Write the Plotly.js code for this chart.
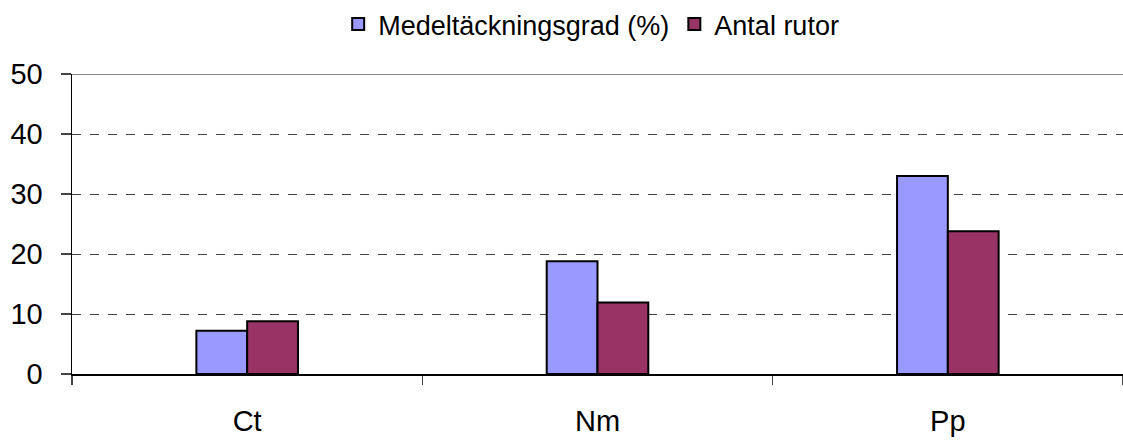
<!DOCTYPE html>
<html>
<head>
<meta charset="utf-8">
<script src="https://cdn.plot.ly/plotly-3.0.1.min.js"></script>
<style>
  html, body { margin: 0; padding: 0; background: #fff; }
  #chart { width: 1123px; height: 441px; }
</style>
</head>
<body>
<div id="chart"></div>
<script>
// Species codes along the x axis
const categories = ['Ct', 'Nm', 'Pp'];
// Mean cover (%) per species
const medeltackningsgrad = [7.2, 18.8, 33];
// Number of plots where the species occurs
const antalRutor = [8.8, 11.9, 23.8];
const yTicks = [0, 10, 20, 30, 40, 50];

const font = 'Liberation Sans, Arial, sans-serif';

const traces = [
  {
    type: 'bar',
    name: 'Medeltäckningsgrad (%)',
    x: categories,
    y: medeltackningsgrad,
    marker: { color: '#9999FF', line: { color: '#000', width: 2 } },
    hoverinfo: 'x+y'
  },
  {
    type: 'bar',
    name: 'Antal rutor',
    x: categories,
    y: antalRutor,
    marker: { color: '#993366', line: { color: '#000', width: 2 } },
    hoverinfo: 'x+y'
  }
];

const layout = {
  width: 1123,
  height: 441,
  paper_bgcolor: '#fff',
  plot_bgcolor: '#fff',
  margin: { l: 72, r: 0, t: 72, b: 67 },
  barmode: 'group',
  bargap: 0.71,
  bargroupgap: 0,
  font: { family: font, color: '#000' },
  showlegend: true,
  legend: {
    orientation: 'h',
    x: 0.494, xanchor: 'center',
    y: 1.165, yanchor: 'middle',
    font: { family: font, size: 27, color: '#000' },
    itemwidth: 30,
    tracegroupgap: 0
  },
  xaxis: {
    type: 'category',
    showgrid: false,
    showline: true,
    linecolor: '#000',
    linewidth: 1.5,
    ticks: 'outside',
    tickson: 'boundaries',
    ticklen: 9,
    tickcolor: '#444',
    tickwidth: 1.5,
    ticklabelstandoff: 21,
    tickfont: { family: font, size: 29, color: '#000' },
    zeroline: false,
    fixedrange: true
  },
  yaxis: {
    range: [0, 50],
    tickvals: yTicks,
    ticktext: yTicks.map(String),
    showline: true,
    linecolor: '#000',
    linewidth: 1.5,
    ticks: 'outside',
    ticklen: 10,
    tickcolor: '#444',
    tickwidth: 1.5,
    ticklabelstandoff: 12,
    tickfont: { family: font, size: 29, color: '#000' },
    showgrid: true,
    gridcolor: '#444',
    gridwidth: 1,
    griddash: 'dash',
    zeroline: false,
    fixedrange: true
  },
  shapes: [
    {
      // solid grey frame line along the top of the plot area
      type: 'line', xref: 'paper', yref: 'y',
      x0: 0, x1: 1, y0: 50, y1: 50,
      line: { color: '#888', width: 2 },
      layer: 'above'
    }
  ]
};

Plotly.newPlot('chart', traces, layout, { displayModeBar: false, staticPlot: true });
</script>
</body>
</html>
